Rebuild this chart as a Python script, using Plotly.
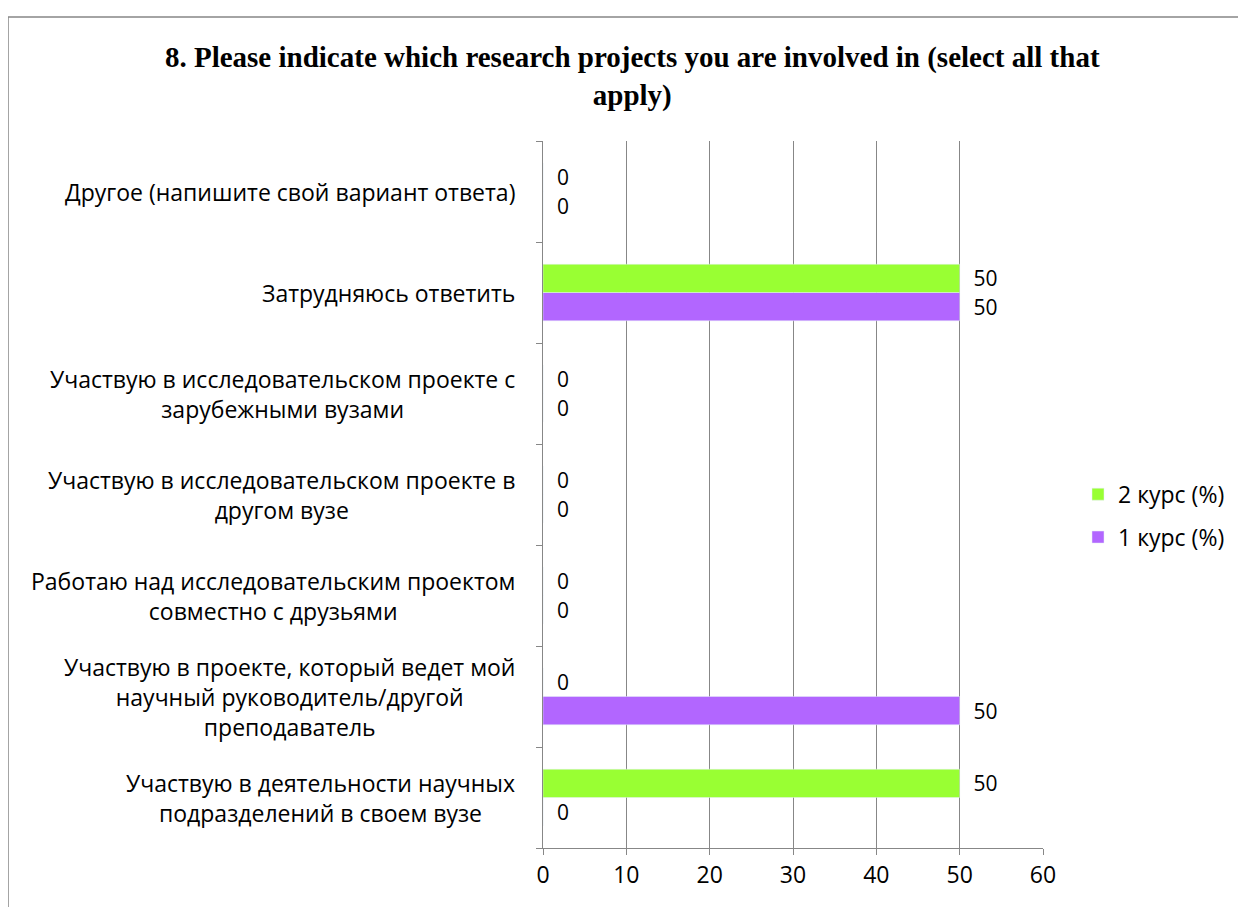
import plotly.graph_objects as go

# categories listed bottom -> top
categories = [
    "Участвую в деятельности научных<br>подразделений в своем вузе",
    "Участвую в проекте, который ведет мой<br>научный руководитель/другой<br>преподаватель",
    "Работаю над исследовательским проектом<br>совместно с друзьями",
    "Участвую в исследовательском проекте в<br>другом вузе",
    "Участвую в исследовательском проекте с<br>зарубежными вузами",
    "Затрудняюсь ответить",
    "Другое (напишите свой вариант ответа)",
]
kurs2 = [50, 0, 0, 0, 0, 50, 0]
kurs1 = [0, 50, 0, 0, 0, 50, 0]

title_text = "8. Please indicate which research projects you are involved in (select all that<br>apply)"

font_sans = "Open Sans"
grey = "#878787"

fig = go.Figure()

fig.add_trace(go.Bar(
    y=categories, x=kurs1, orientation="h",
    name="1 курс (%)", marker_color="#B266FF",
    text=kurs1, texttemplate="\u00a0\u00a0%{x}", textposition="outside",
    textfont=dict(family=font_sans, size=21, color="black"),
    constraintext="none", cliponaxis=False,
    legendgroup="k1", legendrank=2,
))
fig.add_trace(go.Bar(
    y=categories, x=kurs2, orientation="h",
    name="2 курс (%)", marker_color="#99FF33",
    text=kurs2, texttemplate="\u00a0\u00a0%{x}", textposition="outside",
    textfont=dict(family=font_sans, size=21, color="black"),
    constraintext="none", cliponaxis=False,
    legendgroup="k2", legendrank=1,
))

# category labels, centred lines in a right-aligned block
for c in categories:
    fig.add_annotation(
        x=-0.052, xref="paper", y=c, yref="y",
        text=c, showarrow=False, xanchor="right", align="center",
        font=dict(family=font_sans, size=23, color="black"),
    )

# outer chart border
fig.add_shape(type="rect", xref="paper", yref="paper",
              x0=-1.07, y0=-0.3, x1=2.0, y1=1.1754,
              line=dict(color=grey, width=1.5), layer="below")

fig.update_layout(
    width=1246, height=907,
    margin=dict(l=535, r=211, t=133, b=67),
    paper_bgcolor="white", plot_bgcolor="white",
    barmode="group", bargap=0.44, bargroupgap=0,
    title=dict(text=title_text, x=0.501, xref="container", xanchor="center",
               y=0.9345, yref="container", yanchor="top",
               font=dict(family="Liberation Serif", size=29, color="black", weight="bold")),
    legend=dict(x=1.07, y=0.47, xanchor="left", yanchor="middle",
                traceorder="grouped", tracegroupgap=10,
                font=dict(family=font_sans, size=23, color="black")),
    showlegend=True,
)

fig.update_xaxes(
    range=[0, 60], dtick=10, showgrid=True, gridcolor=grey, gridwidth=1,
    showline=True, linecolor=grey, linewidth=1, zeroline=False,
    ticks="outside", ticklen=6, tickcolor=grey,
    tickfont=dict(family=font_sans, size=23, color="black"),
)
fig.update_yaxes(
    showgrid=False, showline=True, linecolor=grey, linewidth=1,
    ticks="outside", tickson="boundaries", ticklen=6, tickcolor=grey,
    showticklabels=False,
)

fig.write_html("out.html")
